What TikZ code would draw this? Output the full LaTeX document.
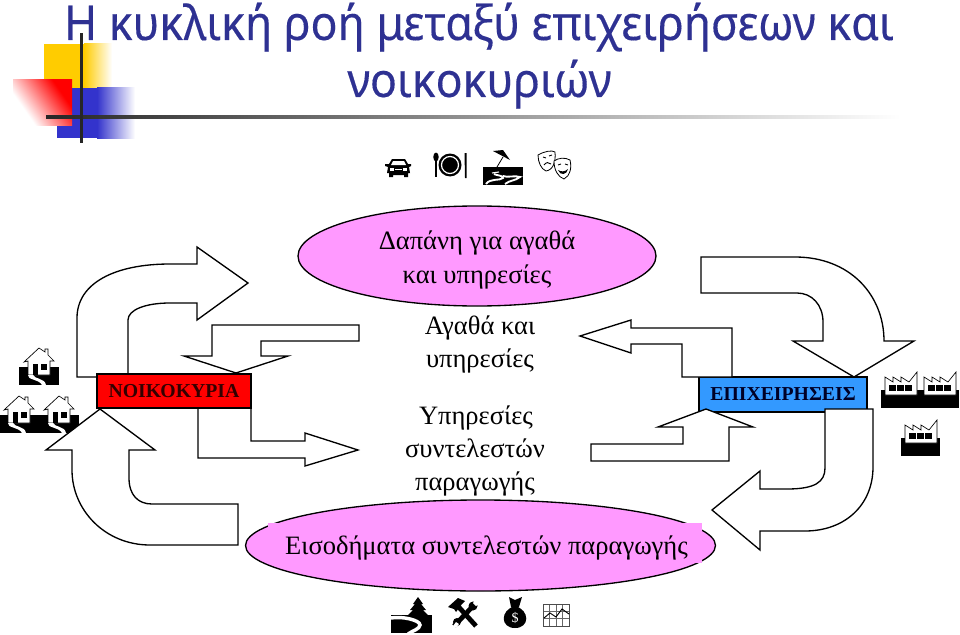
\documentclass[tikz,border=0pt]{standalone}
\usepackage{fontspec}
\setmainfont{Liberation Serif}
\newfontfamily\titlefont[FakeStretch=0.93,FakeBold=0.25]{Noto Sans}
\definecolor{pinkfill}{HTML}{FF99FF}
\definecolor{bluebox}{HTML}{3399FF}
\definecolor{titleblue}{HTML}{2E3192}
\definecolor{logoy}{HTML}{FFCC00}
\definecolor{logob}{HTML}{3333CC}
\pgfdeclarehorizontalshading{redfade}{100bp}{color(0bp)=(white); color(32bp)=(white); color(70bp)=(red); color(100bp)=(red)}
\tikzset{
 blockarrow/.style={draw=black,fill=white,line width=1pt,line join=miter},
 serif/.style={font=\fontsize{19.9pt}{24pt}\selectfont,inner sep=0pt,anchor=base},
 boxlabel/.style={font=\fontsize{14.8pt}{16pt}\selectfont\bfseries,draw=black,line width=0.8pt,inner sep=0pt},
 pics/housepic/.style={code={
  \fill[black] (0,0) rectangle (40,18);
  \draw[fill=white,draw=black,line width=.5pt] (9,-6) -- (9,8) -- (31,8) -- (31,-6) -- (35,-6) -- (29,-12) -- (29,-18) -- (26,-18) -- (26,-15) -- (20,-19) -- (5,-5) -- cycle;
  \fill[black] (14,-3) rectangle (19,8);
  \fill[black] (22,-3) rectangle (28,3);
  \fill[white] (9,8) .. controls (8,13) and (20,12) .. (23,18) -- (27,18) .. controls (26,11) and (15,12) .. (14,8) -- cycle;
 }},
 pics/factorypic/.style={code={
  \fill[black] (0,0) rectangle (39,18);
  \draw[fill=white,draw=black,line width=.5pt] (4,5) -- (4,-13) -- (12,-8) -- (12,-13) -- (20,-8) -- (20,-13) -- (28,-8) -- (36,-18) -- (36,5) -- cycle;
  \foreach \wx in {8,16,24} \fill[black] (\wx,-5) rectangle +(7,6);
 }},
}
\begin{document}
\begin{tikzpicture}[x=0.75pt,y=-0.75pt]
\useasboundingbox (0,0) rectangle (960,635);
% logo
\fill[logoy] (44,44) rectangle (85,88);
\shade[left color=logoy,right color=white,shading=axis] (84,44) rectangle (112,88);
\fill[logob] (57,88) rectangle (98,138);
\shade[left color=logob,right color=white,shading=axis] (97,88) rectangle (135,138);
\shade[shading=redfade,shading angle=35] (13,80) rectangle (72,125);
\shade[left color=black!85,right color=white,shading=axis] (46,115.5) rectangle (900,118.5);
\fill[black!85] (79.5,33) rectangle (82.5,143);
% title
\node[font=\titlefont\fontsize{36pt}{40pt}\selectfont,text=titleblue,anchor=base,inner sep=0pt] (t1) at (479,40) {Η κυκλική ροή μεταξύ επιχειρήσεων και};
\node[font=\titlefont\fontsize{36pt}{40pt}\selectfont,text=titleblue,anchor=base,inner sep=0pt] (t2) at (479.5,97) {νοικοκυριών};
% ellipses
\draw[fill=pinkfill,draw=black,line width=1pt] (477,256) ellipse (179 and 50);
\draw[fill=pinkfill,draw=black,line width=1pt] (480.5,545.5) ellipse (235 and 45.5);
\fill[pinkfill] (268,523) rectangle (702,563);
\node[serif] (e1a) at (477,249) {Δαπάνη για αγαθά};
\node[serif] (e1b) at (477,283) {και υπηρεσίες};
\node[serif] (e2) at (486.5,554) {Εισοδήματα συντελεστών παραγωγής};
\node[serif] (m1) at (480,334) {Αγαθά και};
\node[serif] (m2) at (480,367) {υπηρεσίες};
\node[serif] (m3) at (476,424) {Υπηρεσίες};
\node[serif] (m4) at (475,457) {συντελεστών};
\node[serif] (m5) at (475,490) {παραγωγής};
% houses and factories
\pic at (19,367) {housepic};
\pic at (-1,415) {housepic};
\pic at (39,415) {housepic};
\pic at (881,390) {factorypic};
\pic at (920,390) {factorypic};
\pic at (901,438) {factorypic};
% left arrows
\draw[blockarrow] (77,377) -- (77,318) .. controls (77,283) and (115,264) .. (170,264) -- (197,264) -- (197,247) -- (248,283) -- (197,320) -- (197,303) -- (170,303) .. controls (145,303) and (128,310) .. (128,320) -- (128,377) -- cycle;
\draw[blockarrow] (359,325) -- (212,325) -- (212,356) -- (184,356) -- (236,373) -- (288,356) -- (261,356) -- (261,341) -- (359,341) -- cycle;
\draw[blockarrow] (198,408) -- (198,458) -- (305,458) -- (305,466) -- (358,450) -- (305,433) -- (305,441) -- (251,441) -- (251,408) -- cycle;
\draw[blockarrow] (100,409) -- (155,450) -- (129,450) -- (129,478) .. controls (129,495) and (138,504) .. (152,504) -- (238,504) -- (238,545) -- (150,545) .. controls (105,545) and (72,510) .. (72,470) -- (72,450) -- (46,450) -- cycle;
\node[boxlabel,fill=red,minimum width=115.5pt,minimum height=25.5pt,text=black!80!red] (hh) at (174,391) {ΝΟΙΚΟΚΥΡΙΑ};
% right arrows
\node[boxlabel,fill=bluebox,minimum width=126pt,minimum height=26.25pt,text=black!85!blue] (fi) at (783,394.5) {ΕΠΙΧΕΙΡΗΣΕΙΣ};
\draw[blockarrow] (701,257) -- (795,257) .. controls (850,257) and (884,295) .. (884,341) -- (914,341) -- (854,377) -- (793,341) -- (823,341) -- (823,322) .. controls (823,305) and (812,293) .. (797,293) -- (701,293) -- cycle;
\draw[blockarrow] (580,336) -- (631,320) -- (631,328) -- (732,328) -- (732,377) -- (682,377) -- (682,344) -- (631,344) -- (631,353) -- cycle;
\draw[blockarrow] (706,409) -- (753,427) -- (729,427) -- (729,461) -- (591,461) -- (591,444) -- (683,444) -- (683,427) -- (658,427) -- cycle;
\draw[blockarrow] (825,409) -- (873,409) -- (873,467) .. controls (873,505) and (845,531) .. (805,531) -- (760,531) -- (760,550) -- (712,510) -- (760,471) -- (760,489) -- (787,489) .. controls (815,489) and (825,482) .. (825,468) -- cycle;
% car
\fill[black] (389,164) -- (392,159) -- (405,159) -- (408,164) -- (411,164) -- (411,166) -- (409,167) -- (410,173) -- (408,173) -- (408,177) -- (404,177) -- (404,175) -- (393,175) -- (393,177) -- (389,177) -- (389,173) -- (387,173) -- (388,167) -- (385,166) -- (385,164) -- cycle;
\fill[white] (391,165) -- (393,161) -- (404,161) -- (406,165) -- cycle;
\fill[white] (390,168) rectangle (394,171);
\fill[white] (403,168) rectangle (407,171);
\fill[white] (395,169) rectangle (402,170);
% cutlery and plate
\fill[black] (436,157) ellipse (2.7 and 4.5);
\fill[black] (435,160) rectangle (437.3,177);
\fill[black] (450,165) circle (11.5);
\draw[white,line width=.9pt] (450,165) circle (8.5);
\fill[black] (464.5,153) -- (466.5,153) -- (466.5,178) -- (465,178) -- cycle;
% beach
\fill[black] (483,167) rectangle (523,185);
\fill[black] (493,151) -- (503,150) -- (510,160) -- cycle;
\draw[black,line width=.6pt] (503,157) -- (497,167);
\draw[white,line width=1.4pt] (486,184) .. controls (490,178) and (500,181) .. (503,178) .. controls (505,176) and (495,175) .. (494,174);
\draw[white,line width=1.4pt] (505,184) .. controls (510,180) and (515,181) .. (520,177) .. controls (515,175) and (507,178) .. (503,176);
\draw[white,line width=.8pt] (492,173) -- (499,172);
% masks
\draw[fill=white,draw=black,line width=.6pt] (538,155) .. controls (545,151) and (552,150) .. (555,152) .. controls (556,162) and (553,170) .. (546,171) .. controls (541,169) and (538,162) .. (538,155) -- cycle;
\draw[black,line width=.7pt] (543,157) -- (546,158) (549,156) -- (552,155) (544,165) .. controls (546,162) and (549,162) .. (551,164);
\draw[fill=white,draw=black,line width=.6pt] (554,161) .. controls (558,158) and (565,157) .. (570,160) .. controls (572,168) and (570,176) .. (564,179) .. controls (558,177) and (554,170) .. (554,161) -- cycle;
\draw[black,line width=.7pt] (558,165) -- (561,164) (565,164) -- (568,165);
\fill[black] (558,170) .. controls (561,172) and (565,172) .. (568,169) .. controls (567,175) and (560,176) .. (558,170) -- cycle;
% landscape with tree
\fill[black] (391,615) rectangle (432,633);
\fill[black] (418,597) -- (423,604) -- (421,604) -- (426,610) -- (423,610) -- (429,616) -- (407,616) -- (413,610) -- (410,610) -- (415,604) -- (413,604) -- cycle;
\draw[white,line width=2.6pt] (391,618) .. controls (402,616) and (420,620) .. (420,625) .. controls (420,629) and (412,631) .. (408,634);
% tools
\draw[black,line width=3.6pt] (456,604) -- (476,626);
\draw[black,line width=3.6pt] (476,603) -- (454,626);
\fill[black] (448,607) -- (458,598) -- (465,601) -- (462,604) -- (456,612) -- (454,609) -- cycle;
\fill[black] (473,606) circle (4.5);
\fill[white] (475,600) -- (479,604) -- (476,606) -- (473,603) -- cycle;
\fill[black] (457,622) circle (4);
\fill[white] (453,626) -- (456,628) -- (459,624) -- (456,622) -- cycle;
% money bag
\fill[black] (515,606) .. controls (530,610) and (530,628) .. (515,628) .. controls (500,628) and (500,610) .. (515,606) -- cycle;
\fill[black] (509,597) -- (515,600) -- (522,597) -- (519,607) -- (511,607) -- cycle;
\node[text=white,font=\fontsize{10.5pt}{11pt}\selectfont,inner sep=0pt] (dollar) at (515,618) {\$};
% chart
\foreach \gx in {549.5,556,562.5} \draw[black!60,line width=.4pt] (\gx,604) -- (\gx,626);
\foreach \gy in {611.3,618.7} \draw[black!60,line width=.4pt] (543,\gy) -- (569,\gy);
\draw[black!70,line width=.6pt] (543,604) rectangle (569,626);
\draw[black,line width=.7pt] (544,618) -- (550,613) -- (556,617) -- (562,609) -- (569,614);
\end{tikzpicture}
\end{document}
